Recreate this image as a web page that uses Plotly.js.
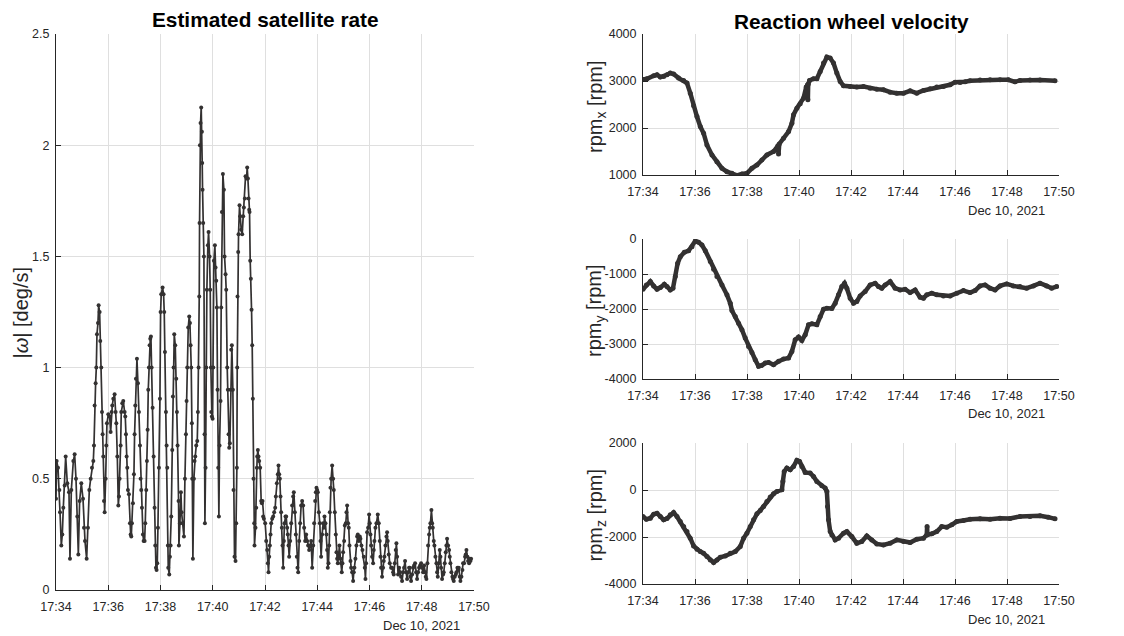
<!DOCTYPE html>
<html>
<head>
<meta charset="utf-8">
<script src="https://cdn.plot.ly/plotly-3.0.1.min.js"></script>
<style>html,body{margin:0;padding:0;background:#fff;}#chart{width:1124px;height:636px;}</style>
</head>
<body>
<div id="chart"></div>
<script>
// ---------------- DATA ----------------
var dateLabel = 'Dec 10, 2021';
var startTime = '2021-12-10 17:34:00';
var endTime = '2021-12-10 17:50:00';
var timeTickLabels = ['17:34','17:36','17:38','17:40','17:42','17:44','17:46','17:48','17:50'];

// Estimated satellite rate |omega| [deg/s]; time in seconds after 17:34:00
var rateT = [
0,1.5,4.6,7.7,9.2,12.2,14.5,16.8,19.9,22.2,
26.0,29.8,32.1,35.2,39.8,42.8,45.9,49.0,51.3,54.3,
58.1,62.0,64.3,66.6,70.4,73.4,76.5,79.6,82.6,85.7,
87.2,88.7,91.0,92.6,94.1,96.4,97.9,100.2,101.7,104.0,
105.6,107.1,108.6,110.2,111.7,114.0,115.5,117.0,120.1,123.2,
125.5,127.8,129.3,131.6,134.6,136.9,138.5,140.8,143.1,144.6,
146.1,148.4,149.9,152.2,154.5,157.6,159.1,160.7,162.2,163.7,
165.2,167.5,169.8,171.4,172.9,174.4,176.7,179.0,180.5,182.1,
183.6,185.9,188.2,190.5,192.8,194.3,195.8,197.4,199.7,201.2,
203.5,205.0,207.3,208.8,210.4,211.9,213.4,215.0,216.5,218.0,
219.6,221.9,224.2,226.4,228.0,229.5,231.0,232.6,234.1,236.4,
238.7,240.2,241.7,244.8,247.1,248.6,250.2,252.5,254.0,255.5,
257.0,257.8,260.1,261.6,263.2,264.7,267.0,268.5,270.0,271.6,
273.9,276.2,277.7,279.2,281.5,282.3,284.6,286.9,288.4,290.7,
293.8,296.1,298.4,299.9,301.4,303.7,306.0,307.6,309.1,310.6,
312.1,312.9,314.4,316.7,318.2,319.8,322.1,324.4,325.9,327.4,
329.0,329.7,330.5,332.0,333.5,335.1,335.8,336.6,338.1,339.7,
341.2,342.0,343.5,345.0,346.5,348.8,350.4,352.7,354.2,355.7,
356.5,358.0,359.6,361.1,362.6,364.9,366.4,368.0,369.5,371.0,
372.6,374.1,375.6,377.9,379.4,381.0,383.3,385.6,387.1,389.4,
390.9,393.2,394.7,396.3,397.8,399.3,400.9,402.4,403.9,406.2,
407.7,410.0,412.3,413.9,415.4,416.2,416.9,418.4,419.2,421.5,
423.0,425.3,427.6,429.9,431.5,433.8,435.3,437.6,439.1,440.7,
442.2,443.7,444.5,446.0,447.5,449.1,450.6,452.1,453.6,455.2,
455.9,458.2,459.8,461.3,462.1,463.6,465.1,466.6,468.9,471.2,
472.8,474.3,475.8,477.4,480.4,482.7,485.0,486.5,488.1,489.6,
491.1,492.7,494.2,496.5,498.8,501.1,503.4,504.9,507.2,509.5,
511.0,512.6,514.1,515.6,517.1,518.7,520.2,521.7,523.3,524.8,
527.1,528.6,530.9,532.4,534.0,535.5,537.8,540.1,542.4,544.7,
546.2,548.5,550.8,553.1,554.6,556.2,558.5,560.7,563.0,565.3,
567.6,569.9,572.2,574.5,576.8,579.1,581.4,583.7,586.0,588.3,
590.6,592.9,595.2,596.7,598.2,599.8,601.3,603.6,605.9,607.4,
608.9,611.2,613.5,615.1,616.6,618.9,621.2,622.7,624.2,625.8,
627.3,628.8,630.4,631.9,634.2,636.5,638.0,640.3,642.6,644.1,
645.7,647.2,648.7,651.0,653.3,654.8,656.3,657.9,659.4,661.7,
663.3,665.5,667.1,668.6,670.9,672.4,674.0,676.3,677.8,680.1,
682.4,683.9,685.4,687.7,690.0,691.6,693.1,695.4,697.7,699.2,
701.5,703.8,706.9,709.2,710.7,712.2,714.5,716.8,719.1,720.6,
722.2,723.7,726.0,728.3,729.8,731.3,733.6,735.9,739.0,741.3,
743.6,745.1,746.6,748.9,751.2,752.8,754.3,756.6,758.9,760.4,
761.9,764.2,766.5,769.6,771.9,774.2,775.7,778.0,780.3,781.8,
783.4,785.7,788.0,790.3,792.5,794.8,797.1,799.4,801.7,804.0,
806.3,808.6,810.9,812.4,813.9,815.5,817.8,820.1,822.4,824.7,
827.0,829.3,831.6,833.9,836.2,838.5,840.8,843.1,845.4,847.7,
849.2,850.7,853.0,854.6,856.9,858.4,859.9,862.2,863.8,865.3,
867.6,869.1,871.4,873.7,875.2,876.8,879.1,881.4,882.9,884.4,
886.7,889.0,890.5,892.8,895.1,896.6,898.2,900.5,902.8,904.3,
905.8,908.1,910.4,911.9,913.5,915.8,918.1,919.6,921.9,923.4,
925.0,927.3,928.8,931.1,933.4,934.9,937.2,939.5,941.0,942.6,
944.9,946.4,948.7,950.3,951.8,953.3
];
var rateV = [
0.41,0.58,0.55,0.45,0.35,0.20,0.25,0.37,0.47,0.60,
0.48,0.44,0.14,0.45,0.58,0.61,0.50,0.33,0.16,0.40,
0.48,0.41,0.28,0.22,0.14,0.28,0.45,0.50,0.55,0.58,
0.65,0.83,0.93,1.00,1.15,1.20,1.28,1.25,1.12,1.00,
0.80,0.70,0.60,0.40,0.35,0.50,0.65,0.75,0.79,0.78,
0.71,0.80,0.83,0.86,0.88,0.80,0.75,0.60,0.38,0.42,
0.50,0.65,0.80,0.84,0.85,0.80,0.78,0.70,0.60,0.55,
0.45,0.43,0.30,0.25,0.24,0.30,0.39,0.52,0.70,0.83,
0.95,1.04,0.93,0.80,0.65,0.50,0.45,0.37,0.25,0.22,
0.22,0.30,0.45,0.58,0.72,0.90,1.00,1.10,1.13,1.14,
1.00,0.82,0.60,0.37,0.20,0.10,0.09,0.12,0.28,0.55,
0.86,1.25,1.33,1.36,1.33,1.25,1.07,0.80,0.65,0.55,
0.20,0.10,0.07,0.15,0.20,0.33,0.63,0.87,1.00,1.15,
1.10,0.95,0.80,0.65,0.40,0.20,0.30,0.44,0.35,0.30,
0.24,0.50,0.70,0.85,1.00,1.18,1.23,1.20,1.10,1.00,
0.75,0.50,0.14,0.50,0.58,0.60,0.65,0.67,0.80,1.00,
1.32,1.65,2.00,2.10,2.17,2.06,1.92,1.80,1.65,1.50,
0.70,0.30,0.55,1.00,1.35,1.55,1.61,1.50,1.35,1.00,
0.80,0.78,0.77,1.00,1.48,1.55,1.45,1.39,1.27,0.90,
0.55,0.33,0.65,0.85,1.27,1.70,1.87,1.80,1.50,1.42,
1.35,1.00,0.90,0.70,0.64,0.66,0.90,1.08,1.10,0.90,
0.45,0.15,0.13,0.30,0.55,1.00,1.32,1.52,1.60,1.73,
1.68,1.62,1.60,1.68,1.72,1.76,1.86,1.85,1.90,1.85,
1.76,1.71,1.70,1.48,1.40,1.26,1.10,0.86,0.50,0.30,
0.20,0.28,0.37,0.55,0.60,0.63,0.60,0.58,0.55,0.40,
0.39,0.40,0.33,0.32,0.30,0.22,0.18,0.12,0.08,0.15,
0.20,0.25,0.30,0.32,0.33,0.35,0.37,0.42,0.48,0.52,
0.56,0.52,0.50,0.42,0.35,0.28,0.20,0.10,0.22,0.30,
0.33,0.33,0.28,0.25,0.20,0.15,0.22,0.30,0.38,0.42,
0.44,0.35,0.25,0.15,0.10,0.08,0.22,0.30,0.38,0.40,
0.38,0.28,0.22,0.25,0.22,0.20,0.18,0.20,0.22,0.10,
0.20,0.30,0.40,0.44,0.46,0.45,0.44,0.35,0.30,0.22,
0.15,0.25,0.30,0.28,0.33,0.30,0.25,0.18,0.10,0.12,
0.20,0.35,0.46,0.50,0.56,0.50,0.45,0.35,0.25,0.17,
0.14,0.12,0.15,0.20,0.14,0.12,0.08,0.12,0.17,0.22,
0.29,0.30,0.35,0.38,0.30,0.28,0.20,0.13,0.10,0.08,
0.04,0.08,0.10,0.14,0.20,0.24,0.25,0.22,0.24,0.23,
0.20,0.18,0.15,0.10,0.05,0.12,0.26,0.28,0.34,0.30,
0.25,0.20,0.15,0.12,0.18,0.22,0.28,0.30,0.34,0.30,
0.22,0.15,0.10,0.06,0.10,0.13,0.15,0.20,0.24,0.26,
0.22,0.16,0.12,0.10,0.10,0.08,0.07,0.12,0.18,0.21,
0.15,0.07,0.10,0.08,0.06,0.04,0.08,0.10,0.13,0.08,
0.05,0.08,0.10,0.10,0.06,0.04,0.07,0.10,0.11,0.12,
0.08,0.05,0.08,0.10,0.11,0.12,0.10,0.08,0.11,0.08,
0.06,0.05,0.12,0.20,0.25,0.28,0.30,0.36,0.30,0.28,
0.22,0.20,0.15,0.12,0.08,0.06,0.12,0.18,0.15,0.10,
0.05,0.07,0.08,0.12,0.17,0.20,0.23,0.20,0.18,0.15,
0.12,0.08,0.06,0.05,0.04,0.06,0.07,0.08,0.10,0.09,
0.10,0.06,0.04,0.06,0.09,0.12,0.12,0.15,0.16,0.18,
0.15,0.13,0.12,0.14,0.13,0.14
];

// Reaction wheel x [rpm]
var rpmxT = [0,9.2,24.6,32.3,40,47.7,55.3,63,70.7,82.2,
93.8,101.5,109.1,116.8,124.5,132.2,139.9,147.6,159.1,170.6,
182.2,193.7,205.2,216.7,228.3,239.8,251.3,262.9,274.4,285.9,
301.3,311.3,312.8,314.4,324.3,335.9,343.6,347.4,355.1,362.8,
370.4,376.6,379.7,380.5,381.2,384.3,393.5,401.2,408.9,416.6,
424.3,431.9,439.6,447.3,455.0,462.7,478.1,493.4,508.8,524.2,
539.6,554.9,570.3,585.7,601.1,616.4,631.8,647.2,662.5,677.9,
693.3,708.7,720.2,731.7,743.3,754.8,777.8,800.9,823.9,843.1,
858.5,870.0,893.1,916.2,950.8];
var rpmxV = [3030,3047,3111,3133,3083,3097,3133,3168,3147,3062,
3012,2955,2742,2472,2244,2031,1889,1640,1427,1284,
1142,1071,1036,990,1021,1036,1142,1213,1320,1427,
1498,1620,1448,1660,1782,1924,2102,2280,2422,2514,
2635,2870,2919,2600,2930,3012,3047,3047,3204,3382,
3509,3488,3382,3168,2991,2898,2884,2870,2884,2848,
2827,2813,2763,2742,2742,2791,2742,2799,2834,2870,
2884,2919,2976,2969,2983,3005,3019,3026,3026,3026,
2983,3012,3019,3019,3005];

// Reaction wheel y [rpm]
var rpmyT = [0,7.7,16.9,24.6,32.3,40,49.2,55.3,63,69.2,
74.6,79.9,86.1,95.3,105.3,113,120.7,128.4,136.0,143.7,
155.3,163.0,170.6,182.2,193.7,201.4,205.2,212.9,220.6,228.3,
235.9,243.6,251.3,259.0,266.7,274.4,282.1,289.8,301.3,312.8,
324.3,335.9,343.6,351.2,358.9,366.6,374.3,382.0,389.7,401.2,
408.9,416.6,424.3,435.8,443.5,451.2,458.8,465.0,470.4,478.1,
485.8,493.4,501.1,512.6,524.2,535.7,543.4,551.1,558.8,570.3,
581.8,593.4,604.9,616.4,628.0,639.5,647.2,654.8,666.4,677.9,
693.3,708.7,724.0,739.4,754.8,766.3,777.8,789.4,800.9,812.4,
823.9,839.3,854.7,870.0,885.4,900.8,916.2,931.5,943.1,954.6];
var rpmyV = [-1435,-1311,-1216,-1340,-1435,-1387,-1292,-1359,-1454,-1406,
-1074,-694,-504,-380,-333,-219,-57,-95,-171,-333,
-646,-865,-1074,-1311,-1596,-1834,-2043,-2214,-2404,-2594,
-2831,-3069,-3240,-3449,-3639,-3610,-3544,-3525,-3591,-3496,
-3430,-3401,-3211,-2879,-2803,-2898,-2736,-2451,-2423,-2451,
-2214,-2005,-1976,-1986,-1834,-1596,-1359,-1264,-1406,-1691,
-1834,-1786,-1625,-1501,-1311,-1264,-1359,-1406,-1311,-1216,
-1406,-1454,-1435,-1530,-1454,-1663,-1691,-1596,-1549,-1596,
-1625,-1625,-1549,-1473,-1530,-1473,-1340,-1311,-1406,-1454,
-1340,-1283,-1340,-1359,-1406,-1340,-1264,-1340,-1406,-1359];

// Reaction wheel z [rpm]
var rpmzT = [0,7.7,16.9,24.6,32.3,40,47.7,55.3,63,70.7,
78.4,86.1,93.8,101.5,109.1,116.8,124.5,132.2,139.9,147.6,
155.3,163.0,170.6,178.3,189.8,201.4,212.9,224.4,232.1,239.8,
247.5,255.2,262.9,270.6,278.3,285.9,293.6,301.3,309.0,320.5,
322.8,325.9,332.0,339.7,347.4,355.1,361.2,366.6,374.3,385.8,
393.5,401.2,412.7,420.4,424.3,425.8,428.1,432.0,435.8,443.5,
451.2,462.7,470.4,481.9,493.4,504.9,516.5,528.0,539.6,554.9,
570.3,585.7,601.1,616.4,631.8,647.2,654.8,655.6,656.4,666.4,
677.9,689.4,701.0,712.5,724.0,739.4,754.8,777.8,800.9,823.9,
847.0,870.0,893.1,916.2,935.4,950.8];
var rpmzV = [-1128,-1242,-1199,-1028,-986,-1128,-1270,-1213,-1057,-957,
-1128,-1341,-1555,-1768,-2052,-2379,-2521,-2621,-2692,-2834,
-2976,-3090,-2976,-2863,-2806,-2692,-2621,-2408,-2052,-1839,
-1555,-1270,-1014,-872,-701,-488,-303,-161,-62,9,
365,792,934,863,1005,1261,1218,1005,749,720,
578,365,180,81,-62,-701,-1270,-1768,-1910,-2123,
-2052,-1839,-1768,-1981,-2265,-2194,-1953,-2123,-2294,-2336,
-2265,-2123,-2194,-2237,-2095,-2052,-1910,-1555,-1900,-1867,
-1768,-1555,-1583,-1484,-1341,-1299,-1242,-1228,-1242,-1199,
-1213,-1128,-1128,-1100,-1156,-1228];

var rateTickVals = [0,0.5,1,1.5,2,2.5];
var rateTickText = ['0','0.5','1','1.5','2','2.5'];
var rpmxTickVals = [1000,2000,3000,4000];
var rpmxTickText = ['1000','2000','3000','4000'];
var rpmyTickVals = [-4000,-3000,-2000,-1000,0];
var rpmyTickText = ['-4000','-3000','-2000','-1000','0'];
var rpmzTickVals = [-4000,-2000,0,2000];
var rpmzTickText = ['-4000','-2000','0','2000'];

var titleLeft = 'Estimated satellite rate';
var titleRight = 'Reaction wheel velocity';
var ylabRate = '|<i>ω</i>| [deg/s]';
var ylabX = 'rpm<sub>x</sub> [rpm]';
var ylabY = 'rpm<sub>y</sub> [rpm]';
var ylabZ = 'rpm<sub>z</sub> [rpm]';

// ---------------- BUILD ----------------
var baseMs = Date.UTC(2021, 11, 10, 17, 34, 0);
function toTime(arr){ return arr.map(function(s){ return baseMs + s*1000; }); }
var timeTickVals = timeTickLabels.map(function(l){ return '2021-12-10 ' + l + ':00'; });

var W = 1124, H = 636;
function px(x){ return x / W; }
function py(y){ return 1 - y / H; }

var FONT = 'Arial, "Liberation Sans", Helvetica, sans-serif';
var TXT = '#262626';
var LINE = '#333131';
var GRID = '#dfdfdf';

var traces = [
  {x: toTime(rateT), y: rateV, xaxis: 'x', yaxis: 'y', type: 'scatter', mode: 'lines+markers',
   line: {color: LINE, width: 1.7}, marker: {color: LINE, size: 4}, hoverinfo: 'none'},
  {x: toTime(rpmxT), y: rpmxV, xaxis: 'x2', yaxis: 'y2', type: 'scatter', mode: 'lines+markers',
   line: {color: LINE, width: 4.5}, marker: {color: LINE, size: 5}, hoverinfo: 'none'},
  {x: toTime(rpmyT), y: rpmyV, xaxis: 'x3', yaxis: 'y3', type: 'scatter', mode: 'lines+markers',
   line: {color: LINE, width: 4.5}, marker: {color: LINE, size: 5}, hoverinfo: 'none'},
  {x: toTime(rpmzT), y: rpmzV, xaxis: 'x4', yaxis: 'y4', type: 'scatter', mode: 'lines+markers',
   line: {color: LINE, width: 4.5}, marker: {color: LINE, size: 5}, hoverinfo: 'none'}
];

function xAxis(domain, anchor){
  return {
    type: 'date', domain: domain, anchor: anchor, range: [startTime, endTime],
    tickmode: 'array', tickvals: timeTickVals, ticktext: timeTickLabels,
    showgrid: true, gridcolor: GRID, gridwidth: 1, zeroline: false,
    showline: true, linecolor: TXT, linewidth: 1, mirror: false,
    ticks: 'inside', ticklen: 5, tickcolor: TXT, tickwidth: 1,
    tickfont: {family: FONT, size: 12.5, color: TXT}, ticklabelstandoff: 5,
    fixedrange: true
  };
}
function yAxis(domain, anchor, range, vals, text){
  return {
    domain: domain, anchor: anchor, range: range,
    tickmode: 'array', tickvals: vals, ticktext: text,
    showgrid: true, gridcolor: GRID, gridwidth: 1, zeroline: false,
    showline: true, linecolor: TXT, linewidth: 1, mirror: false,
    ticks: 'inside', ticklen: 5, tickcolor: TXT, tickwidth: 1,
    tickfont: {family: FONT, size: 12.5, color: TXT}, ticklabelstandoff: 3,
    fixedrange: true
  };
}

var leftX = [px(56), px(474)];
var rightX = [px(643), px(1059)];

function note(text, x, y, opts){
  var a = {text: text, xref: 'paper', yref: 'paper', x: px(x), y: py(y),
           xanchor: 'center', yanchor: 'middle', showarrow: false,
           font: {family: FONT, size: 13, color: TXT}};
  for (var k in opts) a[k] = opts[k];
  return a;
}

var titleFont = {family: FONT, size: 20.8, color: '#000'};
var labelFont = {family: FONT, size: 20, color: TXT};

var layout = {
  width: W, height: H,
  margin: {l: 0, r: 0, t: 0, b: 0, pad: 0},
  paper_bgcolor: '#ffffff', plot_bgcolor: '#ffffff',
  showlegend: false,
  xaxis: xAxis(leftX, 'y'),
  yaxis: yAxis([py(590), py(34)], 'x', [0, 2.5], rateTickVals, rateTickText),
  xaxis2: xAxis(rightX, 'y2'),
  yaxis2: yAxis([py(175), py(34)], 'x2', [1000, 4000], rpmxTickVals, rpmxTickText),
  xaxis3: xAxis(rightX, 'y3'),
  yaxis3: yAxis([py(379), py(239)], 'x3', [-4000, 0], rpmyTickVals, rpmyTickText),
  xaxis4: xAxis(rightX, 'y4'),
  yaxis4: yAxis([py(584), py(443)], 'x4', [-4000, 2000], rpmzTickVals, rpmzTickText),
  annotations: [
    note('<b>' + titleLeft + '</b>', 265, 20, {font: titleFont}),
    note('<b>' + titleRight + '</b>', 851, 21, {font: titleFont}),
    note(ylabRate, 20, 312.5, {textangle: -90, font: labelFont}),
    note(ylabX, 596, 107, {textangle: -90, font: labelFont}),
    note(ylabY, 596, 311, {textangle: -90, font: labelFont}),
    note(ylabZ, 596, 515.5, {textangle: -90, font: labelFont}),
    note(dateLabel, 462, 625, {xanchor: 'right'}),
    note(dateLabel, 1047, 210, {xanchor: 'right'}),
    note(dateLabel, 1047, 413, {xanchor: 'right'}),
    note(dateLabel, 1047, 619, {xanchor: 'right'})
  ]
};

Plotly.newPlot('chart', traces, layout, {staticPlot: true, displayModeBar: false});
</script>
</body>
</html>
